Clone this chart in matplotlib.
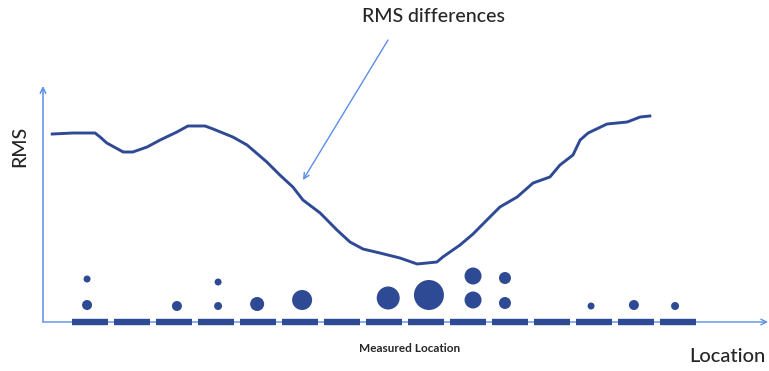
import matplotlib.pyplot as plt

# RMS curve along the location axis (location in segment units)
curve_loc = [-0.90, -0.40, 0.12, 0.24, 0.40, 0.79, 1.02, 1.36, 1.67, 2.07, 2.33, 2.74, 2.93,
             3.40, 3.74, 4.21, 4.52, 4.83, 5.07, 5.48, 5.88, 6.19, 6.50, 6.90, 7.38, 7.79,
             8.26, 8.40, 8.81, 9.12, 9.45, 9.76, 10.17, 10.55, 10.95, 11.19, 11.50, 11.67,
             11.86, 12.31, 12.79, 13.10, 13.33]
curve_rms = [1.88, 1.89, 1.89, 1.85, 1.79, 1.70, 1.70, 1.75, 1.82, 1.90, 1.96, 1.96, 1.93,
             1.85, 1.77, 1.60, 1.47, 1.35, 1.22, 1.09, 0.92, 0.80, 0.73, 0.69, 0.64, 0.58,
             0.60, 0.65, 0.77, 0.88, 1.02, 1.15, 1.25, 1.39, 1.45, 1.57, 1.67, 1.82,
             1.89, 1.98, 2.00, 2.05, 2.06]

# measured locations (segments along the axis)
segments = list(range(15))

# difference markers: location, height, weight (marker radius)
dot_loc = [-0.07, -0.07, 2.07, 3.05, 3.05, 3.98, 5.05, 7.10, 8.07, 9.12, 9.12, 9.88, 9.88,
           11.93, 12.95, 13.93]
dot_rms = [0.17, 0.43, 0.16, 0.16, 0.40, 0.18, 0.22, 0.24, 0.27, 0.22, 0.46, 0.19, 0.44,
           0.16, 0.17, 0.16]
dot_weight = [5, 3.5, 5, 4, 3.5, 7, 10, 11.5, 15, 8.5, 8.5, 6, 6, 3.5, 5, 4]

W, H = 769, 371
navy = '#2f4a94'
axis_blue = '#5b8ee8'
text_col = '#262626'

fig = plt.figure(figsize=(W / 100, H / 100), dpi=100)
ax = fig.add_axes([0, 0, 1, 1])
# pixel x = 90 + 42*loc, pixel y = 322 - 100*rms
ax.set_xlim(-90 / 42, (W - 90) / 42)
ax.set_ylim((322 - H) / 100, 3.22)
ax.axis('off')

y_axis_x = (43 - 90) / 42

# axes with arrows
ax.annotate('', xy=(y_axis_x, 2.36), xytext=(y_axis_x, 0),
            arrowprops=dict(arrowstyle='->', color=axis_blue, lw=1.1, shrinkA=0, shrinkB=0))
ax.annotate('', xy=((W - 1 - 90) / 42, 0), xytext=(y_axis_x, 0),
            arrowprops=dict(arrowstyle='->', color=axis_blue, lw=1.0, shrinkA=0, shrinkB=0))

# measured location segments
ax.hlines([0] * len(segments), [s - 0.44 for s in segments], [s + 0.44 for s in segments],
          color=navy, lw=4.6, capstyle='butt', zorder=3)

# difference markers
ax.scatter(dot_loc, dot_rms, s=[(2 * r * 0.72) ** 2 for r in dot_weight], color=navy,
           edgecolors='none', zorder=3)

# RMS curve
ax.plot(curve_loc, curve_rms, color=navy, lw=2.1, zorder=3)

font = ['Lato', 'DejaVu Sans']
ax.annotate('', xy=(303 / W, 1 - 180 / H), xytext=(388 / W, 1 - 40 / H),
            xycoords='axes fraction', textcoords='axes fraction',
            arrowprops=dict(arrowstyle='->', color=axis_blue, lw=1.0, shrinkA=0, shrinkB=0))
fig.text(433 / W, 1 - 16 / H, 'RMS differences', ha='center', va='center',
         fontsize=14, color=text_col, family=font, fontweight='medium')
fig.text(20 / W, 1 - 146 / H, 'RMS', ha='center', va='center', rotation=90,
         fontsize=14, color=text_col, family=font, fontweight='medium')
fig.text(410 / W, 1 - 349 / H, 'Measured Location', ha='center', va='center',
         fontsize=8.5, color=text_col, family=font, fontweight='bold')
fig.text(727 / W, 1 - 357 / H, 'Location', ha='center', va='center',
         fontsize=14.5, color=text_col, family=font, fontweight='medium')

fig.savefig('out.png', dpi=100)
